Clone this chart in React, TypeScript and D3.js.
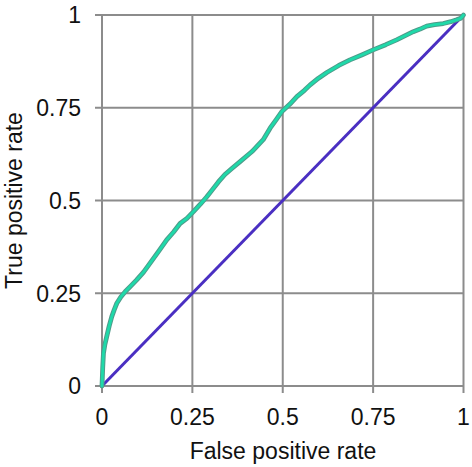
import React from "react";
import * as d3 from "d3";

const xTicks = [0, 0.25, 0.5, 0.75, 1];
const yTicks = [0, 0.25, 0.5, 0.75, 1];
const tickLabels = ["0", "0.25", "0.5", "0.75", "1"];

const rocFpr = [0, 0.002, 0.004, 0.008, 0.013, 0.02, 0.027, 0.034, 0.041, 0.052, 0.064, 0.08, 0.096, 0.115, 0.133, 0.156, 0.179, 0.198, 0.216, 0.235, 0.253, 0.272, 0.29, 0.306, 0.322, 0.34, 0.36, 0.382, 0.415, 0.446, 0.465, 0.482, 0.497, 0.52, 0.539, 0.56, 0.575, 0.598, 0.622, 0.655, 0.686, 0.72, 0.75, 0.785, 0.815, 0.84, 0.861, 0.88, 0.898, 0.92, 0.944, 0.965, 0.981, 0.992, 1];
const rocTpr = [0, 0.05, 0.088, 0.112, 0.133, 0.162, 0.187, 0.206, 0.223, 0.24, 0.254, 0.27, 0.286, 0.307, 0.331, 0.362, 0.394, 0.415, 0.438, 0.452, 0.47, 0.49, 0.51, 0.53, 0.55, 0.57, 0.587, 0.605, 0.632, 0.664, 0.695, 0.718, 0.739, 0.76, 0.78, 0.797, 0.811, 0.829, 0.845, 0.864, 0.879, 0.893, 0.906, 0.92, 0.933, 0.945, 0.955, 0.962, 0.97, 0.974, 0.977, 0.982, 0.987, 0.991, 1];

const diagFpr = [0, 1];
const diagTpr = [0, 1];

export default function App() {
  const W = 472, H = 467;
  const x = d3.scaleLinear().domain([0, 1]).range([102, 463.5]);
  const y = d3.scaleLinear().domain([0, 1]).range([386, 15]);
  const rocPts: [number, number][] = rocFpr.map((f, i) => [f, rocTpr[i]]);
  const diagPts: [number, number][] = diagFpr.map((f, i) => [f, diagTpr[i]]);
  const line = d3.line<[number, number]>().x(d => x(d[0])).y(d => y(d[1]));
  const font = "Liberation Sans, Arial, sans-serif";
  const grid = "#8c8c8c";
  return (
    <svg width={W} height={H} style={{ position: "absolute", left: 0, top: 0, background: "#fff" }}>
      {xTicks.map((t, i) => (
        <line key={"gx" + i} x1={x(t)} x2={x(t)} y1={y(1)} y2={y(0) + 7} stroke={grid} strokeWidth={2} />
      ))}
      {yTicks.map((t, i) => (
        <line key={"gy" + i} x1={x(0) - 7} x2={x(1)} y1={y(t)} y2={y(t)} stroke={grid} strokeWidth={2} />
      ))}
      {xTicks.map((t, i) => (
        <text key={"xl" + i} x={x(t)} y={425} textAnchor="middle" fontFamily={font} fontSize={23} fill="#111">{tickLabels[i]}</text>
      ))}
      {yTicks.map((t, i) => (
        <text key={"yl" + i} x={81} y={y(t) + 8.3} textAnchor="end" fontFamily={font} fontSize={23} fill="#111">{tickLabels[i]}</text>
      ))}
      <text x={283} y={459} textAnchor="middle" fontFamily={font} fontSize={23} fill="#111">False positive rate</text>
      <text transform={`translate(22,${(y(0) + y(1)) / 2}) rotate(-90)`} textAnchor="middle" fontFamily={font} fontSize={23} fill="#111">True positive rate</text>
      <path d={line(diagPts) || ""} fill="none" stroke="#4a2fc2" strokeWidth={3} />
      <path d={line(rocPts) || ""} fill="none" stroke="#4f9a8a" strokeWidth={4.8} strokeLinejoin="round" strokeLinecap="round" />
      <path d={line(rocPts) || ""} fill="none" stroke="#1fd9a9" strokeWidth={2.8} strokeLinejoin="round" strokeLinecap="round" />
    </svg>
  );
}
